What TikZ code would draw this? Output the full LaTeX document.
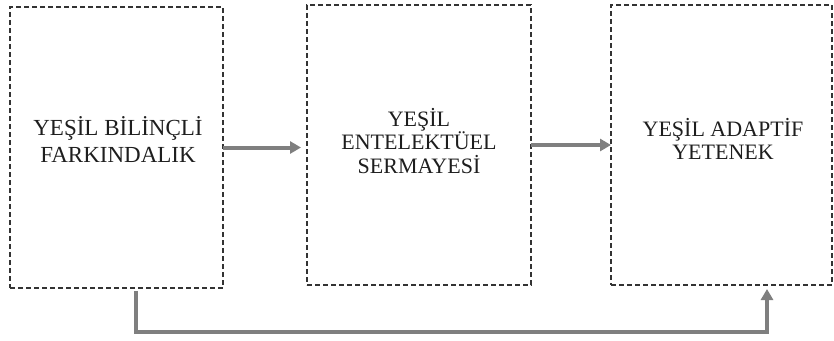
\documentclass[tikz,border=0pt]{standalone}
\usepackage{fontspec}
\setmainfont{Liberation Serif}
\usetikzlibrary{arrows.meta,calc}
\definecolor{arrgray}{HTML}{7F7F7F}
\definecolor{boxgray}{HTML}{333333}
\definecolor{txtgray}{HTML}{1E1E1E}
\begin{document}
\begin{tikzpicture}[x=1pt,y=-1pt,
  box/.style={draw=boxgray, dash pattern=on 5pt off 3pt, line width=1.2pt, inner sep=0pt, outer sep=0pt, rectangle},
  lbl/.style={align=center, text=txtgray, inner sep=0pt},
  arr/.style={draw=arrgray, line width=4pt, line join=miter, -{Triangle[length=11pt,width=12pt]}}]
\useasboundingbox (0,0) rectangle (834,340);
\node[box, minimum width=213pt, minimum height=281pt] (b1) at (116.5,147.5) {};
\node[box, minimum width=224pt, minimum height=280pt] (b2) at (419,145) {};
\node[box, minimum width=221pt, minimum height=280pt] (b3) at (721.5,145) {};
\node[lbl, font=\fontsize{23}{27}\selectfont] (t1) at (118,140) {YEŞİL BİLİNÇLİ\\FARKINDALIK};
\node[lbl, font=\fontsize{22}{23.5}\selectfont] (t2) at (419,141) {YEŞİL\\ENTELEKTÜEL\\SERMAYESİ};
\node[lbl, font=\fontsize{22}{23.5}\selectfont] (t3) at (723,139) {YEŞİL ADAPTİF\\YETENEK};
\coordinate (c1) at (136,332);
\coordinate (c2) at (767,332);
\draw[arr, shorten >=6pt] (b1.east) -- (b2.west |- b1.east);
\draw[arr] (b2.east) -- (b3.west);
\draw[arr, shorten <=3pt, shorten >=4pt] (b1.south -| c1) -- (c1) -- (c2) -- (b3.south -| c2);
\end{tikzpicture}
\end{document}
